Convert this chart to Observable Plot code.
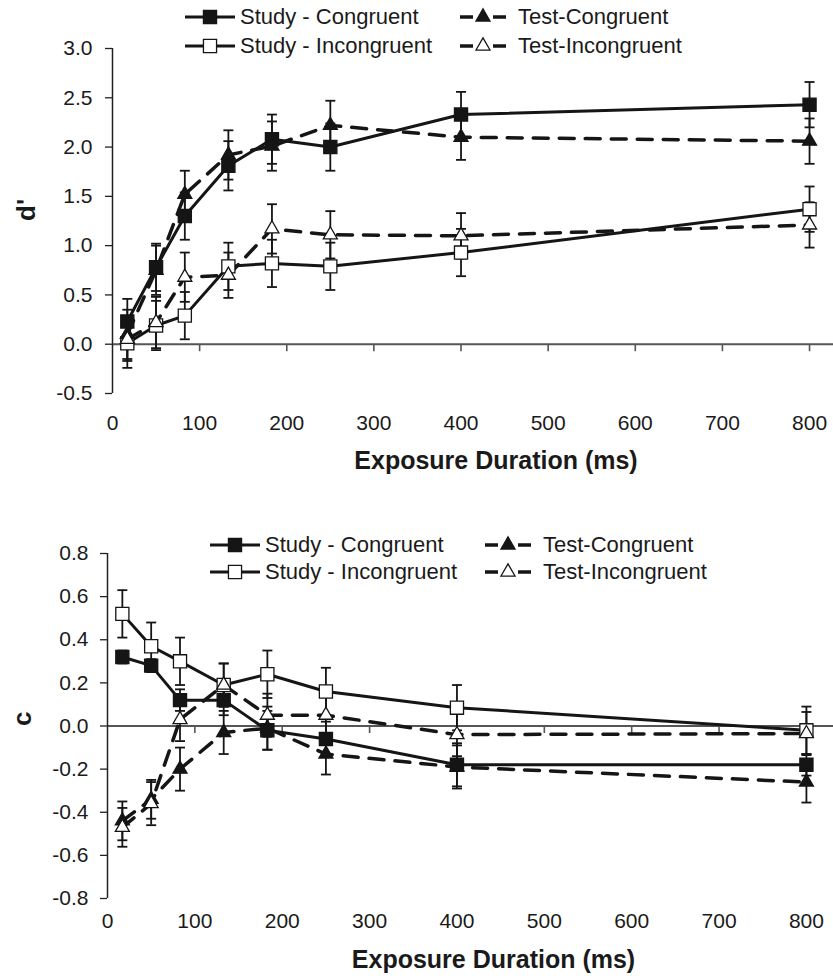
<!DOCTYPE html>
<html><head><meta charset="utf-8">
<script src="https://cdn.jsdelivr.net/npm/d3@7"></script>
<script src="https://cdn.jsdelivr.net/npm/@observablehq/plot@0.6"></script>
<style>
body{margin:0;background:#fff;}
#wrap{position:relative;width:833px;height:980px;font-family:"Liberation Sans",Arial,sans-serif;background:#fff;}
.chart{position:absolute;left:0;}
.item{position:absolute;display:flex;align-items:center;white-space:nowrap;font-size:22px;color:#1a1a1a;line-height:1;}
.item svg{display:block;}
</style></head><body><div id="wrap"></div>
<script>
// ---- data ----
const durations = [17, 50, 83, 133, 183, 250, 400, 800];
const xTickValues = [0, 100, 200, 300, 400, 500, 600, 700, 800];
const seriesNames = ["Study - Congruent", "Study - Incongruent", "Test-Congruent", "Test-Incongruent"];

// d' panel
const dStudyCong    = [0.23, 0.78, 1.30, 1.81, 2.08, 2.00, 2.33, 2.43];
const dStudyCongErr = [0.23, 0.24, 0.24, 0.25, 0.25, 0.24, 0.23, 0.23];
const dStudyInc     = [0.01, 0.19, 0.29, 0.79, 0.82, 0.79, 0.93, 1.37];
const dStudyIncErr  = [0.25, 0.25, 0.24, 0.24, 0.24, 0.24, 0.24, 0.23];
const dTestCong     = [0.10, 0.75, 1.52, 1.92, 2.01, 2.22, 2.10, 2.06];
const dTestCongErr  = [0.25, 0.25, 0.24, 0.25, 0.25, 0.25, 0.23, 0.23];
const dTestInc      = [0.05, 0.22, 0.68, 0.70, 1.17, 1.11, 1.10, 1.21];
const dTestIncErr   = [0.22, 0.26, 0.25, 0.23, 0.25, 0.24, 0.23, 0.23];
const dTicks = [-0.5, 0, 0.5, 1.0, 1.5, 2.0, 2.5, 3.0];

// c panel
const cStudyCong    = [0.32, 0.28, 0.12, 0.12, -0.02, -0.06, -0.18, -0.18];
const cStudyCongErr = [0.03, 0.03, 0.05, 0.07, 0.09, 0.08, 0.10, 0.05];
const cStudyInc     = [0.52, 0.37, 0.30, 0.19, 0.24, 0.16, 0.085, -0.02];
const cStudyIncErr  = [0.11, 0.11, 0.11, 0.10, 0.11, 0.11, 0.105, 0.11];
const cTestCong     = [-0.44, -0.34, -0.20, -0.03, -0.01, -0.13, -0.19, -0.26];
const cTestCongErr  = [0.09, 0.09, 0.10, 0.10, 0.10, 0.095, 0.10, 0.095];
const cTestInc      = [-0.47, -0.36, 0.03, 0.19, 0.05, 0.05, -0.04, -0.035];
const cTestIncErr   = [0.09, 0.10, 0.10, 0.10, 0.10, 0.10, 0.10, 0.10];
const cTicks = [-0.8, -0.6, -0.4, -0.2, 0, 0.2, 0.4, 0.6, 0.8];

// ---- helpers ----
const INK = "#151515";
const styles = [
  {symbol: "square",   fill: INK,     dash: null},
  {symbol: "square",   fill: "white", dash: null},
  {symbol: "triangle", fill: INK,     dash: "15,11"},
  {symbol: "triangle", fill: "white", dash: "15,11"}
];
function rowsOf(values, errs, s) {
  return durations.map((x, i) => ({x, y: values[i], err: errs[i], s}));
}
const vTick = {draw(ctx) { ctx.moveTo(0, 0); ctx.lineTo(0, 7); }};
const cap = {draw(ctx) { ctx.moveTo(-5, 0); ctx.lineTo(5, 0); }};

function makeChart(o) {
  const series = o.series.map(([v, e], s) => rowsOf(v, e, s));
  const marks = [
    Plot.ruleY([0], {stroke: "#555", strokeWidth: 2}),
    Plot.ruleX([0], {y1: o.yDomain[0], y2: o.yDomain[1], stroke: "#222", strokeWidth: 1.5}),
    Plot.dot(xTickValues.slice(1), {x: d => d, y: () => 0, symbol: vTick, fill: "none", stroke: "#555", strokeWidth: 1.6}),
    Plot.axisX(xTickValues, {label: null, tickSize: 0, tickPadding: o.xPad, tickFormat: d => String(d), fontSize: 21, fill: "#1a1a1a"}),
    Plot.axisY(o.yTicks, {label: null, tickSize: 7, tickPadding: o.yPad, tickFormat: d => d.toFixed(1), fontSize: 21, fill: "#1a1a1a", stroke: "#222", strokeWidth: 1.3}),
    Plot.text([o.yLabel], {text: d => d, frameAnchor: "left", dx: o.yLabelDx, rotate: -90, fontWeight: "bold", fontSize: 26, fill: "#1a1a1a"}),
    Plot.text(["Exposure Duration (ms)"], {text: d => d, frameAnchor: "bottom", dx: 23, dy: o.titleDy, fontWeight: "bold", fontSize: 25, fill: "#1a1a1a"})
  ];
  series.forEach((rows, s) => {
    marks.push(Plot.line(rows, {x: "x", y: "y", stroke: INK, strokeWidth: s >= 2 ? 3.5 : 3, strokeDasharray: styles[s].dash}));
  });
  series.forEach(rows => {
    marks.push(Plot.ruleX(rows, {x: "x", y1: d => d.y - d.err, y2: d => d.y + d.err, stroke: INK, strokeWidth: 1.8}));
    marks.push(Plot.dot(rows, {x: "x", y: d => d.y + d.err, symbol: cap, fill: "none", stroke: INK, strokeWidth: 1.8}));
    marks.push(Plot.dot(rows, {x: "x", y: d => d.y - d.err, symbol: cap, fill: "none", stroke: INK, strokeWidth: 1.8}));
  });
  series.forEach((rows, s) => {
    const st = styles[s];
    marks.push(Plot.dot(rows, {x: "x", y: "y", symbol: st.symbol, r: st.symbol === "square" ? 7.4 : 5.2,
      fill: st.fill, stroke: INK, strokeWidth: 1.3}));
  });
  return Plot.plot({
    width: 833, height: o.height,
    marginTop: o.marginTop, marginBottom: o.marginBottom, marginLeft: o.marginLeft, marginRight: 0,
    x: {domain: [0, o.xMax], label: null, axis: null},
    y: {domain: o.yDomain, label: null, axis: null},
    style: {fontFamily: "'Liberation Sans', Arial, sans-serif", fontSize: "21px", background: "white", color: "#1a1a1a"},
    marks
  });
}

const wrap = document.getElementById("wrap");

const top1 = makeChart({
  series: [[dStudyCong, dStudyCongErr], [dStudyInc, dStudyIncErr], [dTestCong, dTestCongErr], [dTestInc, dTestIncErr]],
  yDomain: [-0.5, 3.0], yTicks: dTicks, yLabel: "d'",
  height: 500, marginTop: 48, marginBottom: 107, marginLeft: 112, xMax: 827.5,
  xPad: 22, yPad: 13, yLabelDx: -86, titleDy: 75
});
top1.classList.add("chart"); top1.style.top = "0px";
wrap.appendChild(top1);

const bottom1 = makeChart({
  series: [[cStudyCong, cStudyCongErr], [cStudyInc, cStudyIncErr], [cTestCong, cTestCongErr], [cTestInc, cTestIncErr]],
  yDomain: [-0.8, 0.8], yTicks: cTicks, yLabel: "c",
  height: 480, marginTop: 53, marginBottom: 82, marginLeft: 107, xMax: 831,
  xPad: 15, yPad: 12, yLabelDx: -85, titleDy: 69
});
bottom1.classList.add("chart"); bottom1.style.top = "500px";
wrap.appendChild(bottom1);

// ---- legends ----
function legendIcon(s) {
  const st = styles[s];
  const w = st.dash ? 46 : 50, h = 22, cx = w / 2, cy = h / 2;
  const svg = d3.create("svg").attr("width", w).attr("height", h);
  if (st.dash) {
    svg.append("line").attr("x1", 0).attr("x2", 13).attr("y1", cy).attr("y2", cy).attr("stroke", INK).attr("stroke-width", 3.5);
    svg.append("line").attr("x1", w - 13).attr("x2", w).attr("y1", cy).attr("y2", cy).attr("stroke", INK).attr("stroke-width", 3.5);
  } else {
    svg.append("line").attr("x1", 0).attr("x2", w).attr("y1", cy).attr("y2", cy).attr("stroke", INK).attr("stroke-width", 3);
  }
  const r = st.symbol === "square" ? 7.4 : 5.2;
  const sym = st.symbol === "square" ? d3.symbolSquare : d3.symbolTriangle;
  svg.append("path").attr("d", d3.symbol(sym, r * r * Math.PI)()).attr("transform", `translate(${cx},${cy})`)
    .attr("fill", st.fill).attr("stroke", INK).attr("stroke-width", 1.3);
  return svg.node();
}
function addLegend(x1, x2, y1, y2) {
  const pos = [[x1, y1], [x1, y2], [x2, y1], [x2, y2]];
  seriesNames.forEach((name, s) => {
    const div = document.createElement("div");
    div.className = "item";
    div.style.left = pos[s][0] + "px";
    div.style.top = (pos[s][1] - 11) + "px";
    div.appendChild(legendIcon(s));
    const span = document.createElement("span");
    span.textContent = name;
    span.style.marginLeft = styles[s].dash ? "12px" : "5px";
    div.appendChild(span);
    wrap.appendChild(div);
  });
}
addLegend(185, 460, 17, 46);
addLegend(210, 485, 545, 572);
</script>
</body></html>
